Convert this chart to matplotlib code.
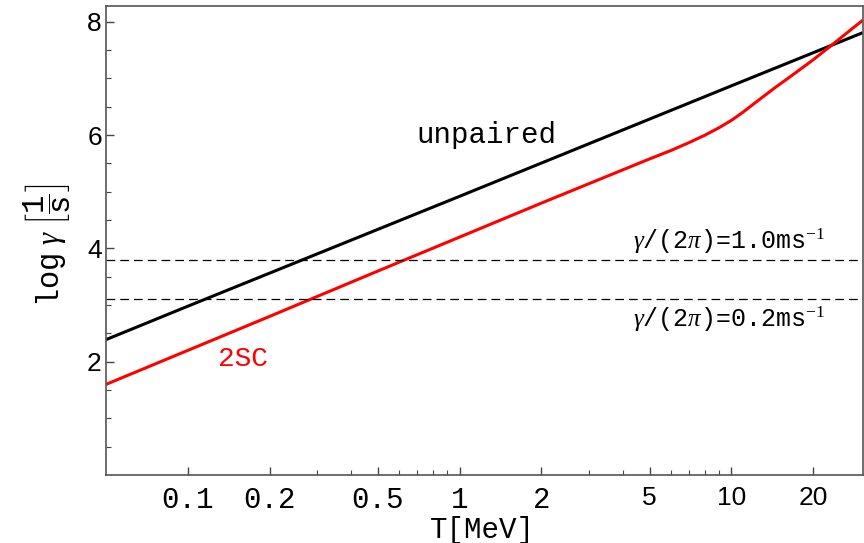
import numpy as np
import matplotlib
matplotlib.use("Agg")
import matplotlib.pyplot as plt
from matplotlib.ticker import FixedLocator, NullFormatter

plt.rcParams['mathtext.fontset'] = 'custom'
plt.rcParams['mathtext.tt'] = 'Liberation Mono'
plt.rcParams['mathtext.rm'] = 'Liberation Serif'
plt.rcParams['mathtext.it'] = 'Liberation Serif:italic'

# curve values
T_unpaired = [0.05, 0.1, 1, 10, 30.5]
g_unpaired = [2.39, 2.98, 4.92, 6.87, 7.81]

T_2sc = [0.05, 0.1, 0.2, 0.5, 1, 2, 5, 6, 7, 8, 9, 10, 11, 12, 14.4, 17, 20, 24, 28, 30.5]
g_2sc = [1.60, 2.20, 2.80, 3.60, 4.20, 4.80, 5.58, 5.73, 5.87, 6.00, 6.13, 6.26,
         6.40, 6.54, 6.83, 7.08, 7.33, 7.63, 7.89, 8.03]

# horizontal reference levels: log10(2*pi*rate)
rate_levels = [1000.0, 200.0]
rate_labels = [r'$\gamma$/(2$\pi$)=1.0ms$^{-1}$', r'$\gamma$/(2$\pi$)=0.2ms$^{-1}$']

x_major = [0.1, 0.2, 0.5, 1, 2, 5, 10, 20]
x_major_labels = ['0.1', '0.2', '0.5', '1', '2', '5', '10', '20']
x_minor = [0.3, 0.4, 0.6, 0.7, 0.8, 0.9, 3, 4, 6, 7, 8, 9]
y_major = [2, 4, 6, 8]

mono = 'Liberation Mono'
sans = 'Liberation Sans'

fig = plt.figure(figsize=(8.64, 5.43), dpi=100)
ax = fig.add_axes([0.1227, 0.1252, 0.8761, 0.8638])

ax.plot(T_unpaired, g_unpaired, color='black', lw=2.2, solid_capstyle='butt')
ax.plot(T_2sc, g_2sc, color='red', lw=2.2, solid_capstyle='butt')

for r in rate_levels:
    ax.axhline(np.log10(2 * np.pi * r), color='black', lw=0.9, dashes=(7, 4))

ax.set_xscale('log')
ax.set_xlim(0.05, 30.5)
ax.set_ylim(0, 8.28)

ax.xaxis.set_major_locator(FixedLocator(x_major))
ax.xaxis.set_minor_locator(FixedLocator(x_minor))
ax.xaxis.set_minor_formatter(NullFormatter())
ax.set_xticklabels(x_major_labels)
for lab, txt in zip(ax.get_xticklabels(), x_major_labels):
    if txt in ('5', '10', '20'):
        lab.set_fontfamily(sans)
        lab.set_fontsize(19)
    else:
        lab.set_fontfamily(mono)
        lab.set_fontsize(21)

ax.yaxis.set_major_locator(FixedLocator(y_major))
ax.yaxis.set_minor_locator(FixedLocator(np.arange(0.5, 8.1, 0.5)))
ax.yaxis.set_minor_formatter(NullFormatter())
for lab in ax.get_yticklabels():
    lab.set_fontfamily(sans)
    lab.set_fontsize(19)

ax.tick_params(which='both', direction='in', top=False, right=False, color='#444444')
ax.tick_params(which='major', length=6, width=1)
ax.tick_params(axis='x', which='major', pad=8)
ax.tick_params(axis='y', which='major', pad=3)
ax.tick_params(which='minor', length=3.5, width=0.8)
for s in ax.spines.values():
    s.set_color('#555555')
    s.set_linewidth(1.2)

ax.set_xlabel('T[MeV]', fontfamily=mono, fontsize=21)
ax.xaxis.set_label_coords(0.497, -0.088)
ax.set_ylabel(r'$\mathtt{log}\ \gamma\ \left[\dfrac{\mathtt{1}}{\mathtt{s}}\right]$',
              fontsize=22)
ax.yaxis.set_label_coords(-0.078, 0.49)
ax.yaxis.label.set_verticalalignment('center')

ax.text(1.26, 6.0, 'unpaired', fontfamily=mono, fontsize=21, ha='center', va='center')
ax.text(0.16, 2.04, '2SC', fontfamily=mono, fontsize=20, color='red', ha='center', va='center')

ax.text(22.2, 4.12, rate_labels[0], fontfamily=mono, fontsize=18, ha='right', va='center')
ax.text(22.2, 2.74, rate_labels[1], fontfamily=mono, fontsize=18, ha='right', va='center')

fig.savefig('out.png', dpi=100)
